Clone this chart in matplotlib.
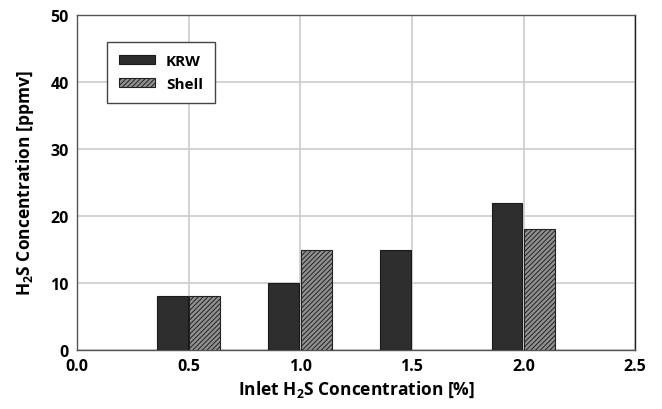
import matplotlib

matplotlib.use("Agg")
import matplotlib.pyplot as plt
import numpy as np

plt.rcParams.update({
    "font.family": ["Open Sans", "DejaVu Sans"],
    "font.weight": "bold",
    "axes.labelweight": "bold",
    "mathtext.fontset": "custom",
    "mathtext.rm": "Open Sans:bold",
    "mathtext.bf": "Open Sans:bold",
    "hatch.color": "#222222",
    "hatch.linewidth": 0.7,
})

inlet = [0.5, 1.0, 1.5, 2.0]
krw = [8, 10, 15, 22]
shell = [8, 15, np.nan, 18]

fig = plt.figure(figsize=(6.62, 4.10), dpi=100)
ax = fig.add_axes([0.1165, 0.1439, 0.843, 0.817])

x = np.array(inlet)
w = 0.138
ax.bar(x - 0.074, krw, w, color="#2e2e2e", edgecolor="#1a1a1a", lw=0.8,
       label="KRW", zorder=3)
ax.bar(x + 0.071, shell, w, color="#909090", edgecolor="#222222", lw=0.8,
       hatch="///////", label="Shell", zorder=3)

ax.set_xlim(0, 2.5)
ax.set_ylim(0, 50)
ax.set_xticks(np.arange(0, 2.51, 0.5))
ax.set_yticks(range(0, 51, 10))
ax.xaxis.set_major_formatter(matplotlib.ticker.FormatStrFormatter("%.1f"))
ax.grid(True, color="#cccccc", lw=1.2, zorder=0)
ax.set_axisbelow(True)
ax.tick_params(length=0, labelsize=11.5, pad=6)
for s in ax.spines.values():
    s.set_color("#555555")
    s.set_linewidth(1.0)
ax.spines["right"].set_color("#222222")

ax.set_xlabel(r"Inlet H$_\mathbf{2}$S Concentration [%]", fontsize=12.5, labelpad=3)
ax.set_ylabel(r"H$_\mathbf{2}$S Concentration [ppmv]", fontsize=12.5, labelpad=10)

leg = ax.legend(loc="upper left", bbox_to_anchor=(0.054, 0.92), fancybox=False,
                edgecolor="#444444", framealpha=1, fontsize=11,
                handlelength=2.35, handleheight=0.55, borderpad=0.8,
                labelspacing=0.6, handletextpad=0.7, borderaxespad=0)
leg.get_frame().set_linewidth(1.0)

fig.savefig("out.png", dpi=100)
